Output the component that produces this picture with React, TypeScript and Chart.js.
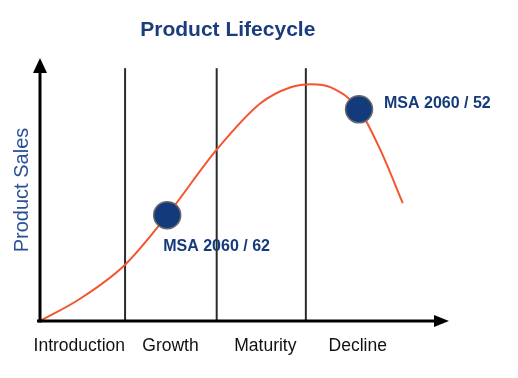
import React, { useEffect, useRef } from "react";
import { Chart, registerables } from "chart.js";

Chart.register(...registerables);

// Stage labels and positions on the x scale (0..100)
const stageLabels = ["Introduction", "Growth", "Maturity", "Decline"];
const stageCenters = [9.6, 31.9, 55.1, 77.7];
const stageBoundaries = [20.8, 43.2, 65.0];
const boundaryTop = 96.5;

// Sales curve (x: time 0..100, y: sales 0..100)
const curveX = [0, 9.8, 20.8, 31.1, 43.2, 53.9, 61.3, 66.2, 71.1, 78.0, 83.3, 88.7];
const curveY = [0, 8.5, 21.5, 40.4, 65.4, 83.1, 89.2, 90.4, 89.2, 80.8, 65.0, 45.0];

// Highlighted products
const markerX = [31.1, 78.0];
const markerY = [40.4, 80.8];
const markerLabels = ["MSA 2060 / 62", "MSA 2060 / 52"];

const FONT = "'Liberation Sans', Arial, Helvetica, sans-serif";
const NAVY = "#163b7c";

const axesPlugin = {
  id: "arrowAxes",
  afterDatasetsDraw(chart: any) {
    const { ctx, chartArea } = chart;
    const { left, right, top, bottom } = chartArea;
    ctx.save();
    ctx.fillStyle = "#000";
    ctx.strokeStyle = "#000";
    ctx.lineWidth = 3;
    // y axis
    ctx.beginPath();
    ctx.moveTo(left, bottom + 1.5);
    ctx.lineTo(left, top + 10);
    ctx.stroke();
    ctx.beginPath();
    ctx.moveTo(left, top - 1);
    ctx.lineTo(left - 7, top + 14);
    ctx.lineTo(left + 7, top + 14);
    ctx.closePath();
    ctx.fill();
    // x axis
    ctx.beginPath();
    ctx.moveTo(left - 3, bottom);
    ctx.lineTo(right - 10, bottom);
    ctx.stroke();
    ctx.beginPath();
    ctx.moveTo(right, bottom);
    ctx.lineTo(right - 15, bottom - 6);
    ctx.lineTo(right - 15, bottom + 6);
    ctx.closePath();
    ctx.fill();

    // marker labels
    const meta = chart.getDatasetMeta(chart.data.datasets.length - 1);
    ctx.font = `bold 16px ${FONT}`;
    ctx.fillStyle = NAVY;
    ctx.textBaseline = "middle";
    ctx.textAlign = "left";
    const offsets = [
      [-4, 31],
      [25, -6],
    ];
    meta.data.forEach((el: any, i: number) => {
      ctx.fillText(markerLabels[i], el.x + offsets[i][0], el.y + offsets[i][1]);
    });
    ctx.restore();
  },
};

export default function App() {
  const ref = useRef<HTMLCanvasElement | null>(null);

  useEffect(() => {
    document.body.style.margin = "0";
    const canvas = ref.current;
    if (!canvas) return;

    const boundaryDatasets = stageBoundaries.map((b) => ({
      type: "line" as const,
      data: [
        { x: b, y: 0 },
        { x: b, y: boundaryTop },
      ],
      borderColor: "#2b2b2b",
      borderWidth: 2,
      pointRadius: 0,
      tension: 0,
      order: 3,
    }));

    const chart = new Chart(canvas, {
      type: "line",
      data: {
        datasets: [
          ...boundaryDatasets,
          {
            type: "line",
            data: curveX.map((x, i) => ({ x, y: curveY[i] })),
            borderColor: "#f4552f",
            borderWidth: 2,
            pointRadius: 0,
            cubicInterpolationMode: "monotone",
            clip: false,
            order: 2,
          },
          {
            type: "scatter",
            data: markerX.map((x, i) => ({ x, y: markerY[i] })),
            backgroundColor: "#133a7b",
            borderColor: "#6b6b6b",
            borderWidth: 1.5,
            pointRadius: 13.5,
            pointHoverRadius: 13.5,
            clip: false,
            order: 1,
          },
        ] as any,
      },
      options: {
        animation: false,
        responsive: false,
        events: [],
        layout: { padding: { left: 6.6, right: 69, top: 0, bottom: 6 } },
        plugins: {
          legend: { display: false },
          tooltip: { enabled: false },
          title: {
            display: true,
            text: "Product Lifecycle",
            color: "#1b3d7d",
            font: { family: FONT, size: 21, weight: "bold" },
            padding: { top: 18, bottom: 15.8 },
          },
        },
        scales: {
          x: {
            type: "linear",
            min: 0,
            max: 100,
            grid: { display: false, drawTicks: false },
            border: { display: false },
            afterBuildTicks: (scale: any) => {
              scale.ticks = stageCenters.map((v) => ({ value: v }));
            },
            ticks: {
              autoSkip: false,
              maxRotation: 0,
              padding: 15,
              color: "#111",
              font: { family: FONT, size: 17.5 },
              callback: (_v: any, i: number) => stageLabels[i],
            },
          },
          y: {
            type: "linear",
            min: 0,
            max: 100,
            grid: { display: false, drawTicks: false },
            border: { display: false },
            ticks: { display: false },
            title: {
              display: true,
              text: "Product Sales",
              color: "#2a5097",
              font: { family: FONT, size: 20 },
              padding: { top: 4, bottom: 5.4 },
            },
          },
        },
      },
      plugins: [axesPlugin],
    });
    return () => chart.destroy();
  }, []);

  return (
    <div style={{ position: "fixed", left: 0, top: 0, width: 518, height: 378, background: "#fff" }}>
      <canvas ref={ref} width={518} height={378} style={{ width: 518, height: 378 }} />
    </div>
  );
}
